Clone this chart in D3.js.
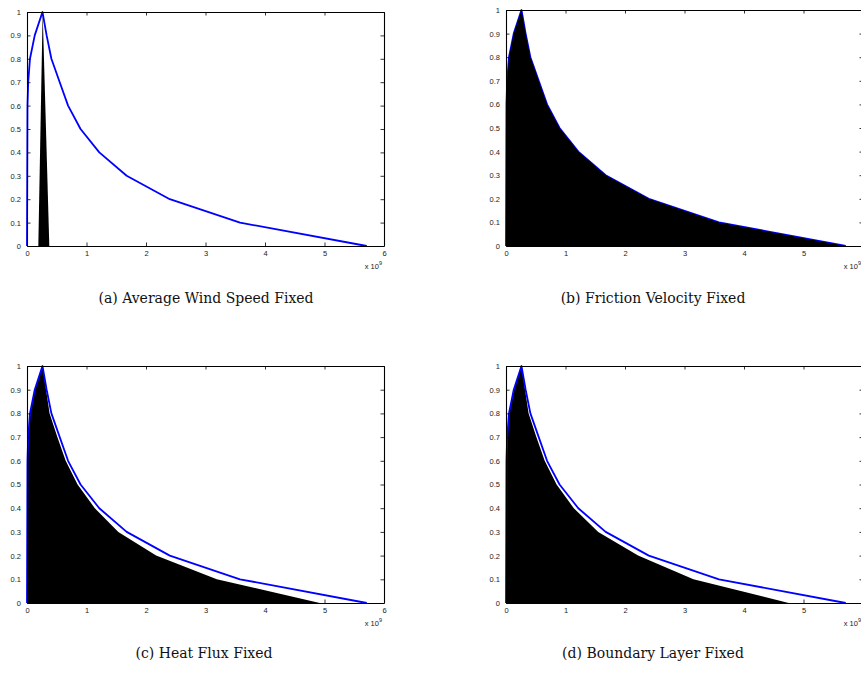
<!DOCTYPE html>
<html><head><meta charset="utf-8">
<script src="https://cdn.jsdelivr.net/npm/d3@7/dist/d3.min.js"></script>
<style>
html,body{margin:0;padding:0;background:#fff;overflow:hidden}
svg{display:block}
</style></head><body>
<svg id="chart" width="861" height="674"></svg>
<script>
// ---- data (x in units of 1e9) ----
const blueX = [0, 0.008, 0.02, 0.05, 0.13, 0.26, 0.33, 0.41, 0.55, 0.69, 0.9, 1.215, 1.675, 2.40, 3.58, 5.71];
const blueY = [0, 0.6, 0.7, 0.8, 0.9, 1, 0.9, 0.8, 0.7, 0.6, 0.5, 0.4, 0.3, 0.2, 0.1, 0];

const fillAX = [0.19, 0.263, 0.375];
const fillAY = [0, 1, 0];

const fillBX = blueX;
const fillBY = blueY;

const fillCX = [0, 0.01, 0.025, 0.055, 0.135, 0.26, 0.32, 0.38, 0.51, 0.65, 0.85, 1.14, 1.535, 2.17, 3.19, 4.92];
const fillCY = [0, 0.6, 0.7, 0.8, 0.9, 1, 0.9, 0.8, 0.7, 0.6, 0.5, 0.4, 0.3, 0.2, 0.1, 0];

const fillDX = [0, 0.01, 0.025, 0.055, 0.135, 0.26, 0.32, 0.38, 0.51, 0.65, 0.85, 1.14, 1.55, 2.22, 3.15, 4.75];
const fillDY = [0, 0.6, 0.7, 0.8, 0.9, 1, 0.9, 0.8, 0.7, 0.6, 0.5, 0.4, 0.3, 0.2, 0.1, 0];

const xTicks = [0, 1, 2, 3, 4, 5, 6];
const yTicks = [0, 0.1, 0.2, 0.3, 0.4, 0.5, 0.6, 0.7, 0.8, 0.9, 1];
const yTickLabels = ["0","0.1","0.2","0.3","0.4","0.5","0.6","0.7","0.8","0.9","1"];
const xExponent = "9";

const captions = ["(a) Average Wind Speed Fixed", "(b) Friction Velocity Fixed", "(c) Heat Flux Fixed", "(d) Boundary Layer Fixed"];

const panels = [
  {box:[27, 12, 384, 246], fx: fillAX, fy: fillAY, fillOnTop:false, cap:[206, 303]},
  {box:[506, 10, 863, 246], fx: fillBX, fy: fillBY, fillOnTop:true, cap:[653, 303]},
  {box:[27, 366, 384, 603], fx: fillCX, fy: fillCY, fillOnTop:false, cap:[204, 658]},
  {box:[506, 366, 863, 603], fx: fillDX, fy: fillDY, fillOnTop:false, cap:[653, 658]}
];

const svg = d3.select("#chart");

panels.forEach((p, i) => {
  const [l, t, r, b] = p.box;
  const x = d3.scaleLinear().domain([0, 6]).range([l, r]);
  const y = d3.scaleLinear().domain([0, 1]).range([b, t]);
  const g = svg.append("g");

  const blue = blueX.map((v, k) => [v, blueY[k]]);
  const fill = p.fx.map((v, k) => [v, p.fy[k]]);

  const area = d3.area().x(d => x(d[0])).y0(y(0)).y1(d => y(d[1]));
  const line = d3.line().x(d => x(d[0])).y(d => y(d[1]));

  const drawFill = () => g.append("path").attr("d", area(fill)).attr("fill", "#000");
  const drawLine = () => g.append("path").attr("d", line(blue)).attr("fill", "none")
      .attr("stroke", "#0000ff").attr("stroke-width", 1.8).attr("stroke-linejoin", "round");

  if (p.fillOnTop) { drawLine(); drawFill(); } else { drawFill(); drawLine(); }

  // axes (MATLAB style, ticks inward on all sides)
  const axB = d3.axisBottom(x).tickValues(xTicks).tickSizeInner(-3.5).tickSizeOuter(0).tickPadding(5).tickFormat(d3.format("d"));
  const axT = d3.axisTop(x).tickValues(xTicks).tickSizeInner(-3.5).tickSizeOuter(0).tickFormat("");
  const axL = d3.axisLeft(y).tickValues(yTicks).tickSizeInner(-3.5).tickSizeOuter(0).tickPadding(6).tickFormat((d, k) => yTickLabels[k]);
  const axR = d3.axisRight(y).tickValues(yTicks).tickSizeInner(-3.5).tickSizeOuter(0).tickFormat("");

  const ga = [
    g.append("g").attr("transform", `translate(0,${b})`).call(axB),
    g.append("g").attr("transform", `translate(0,${t})`).call(axT),
    g.append("g").attr("transform", `translate(${l},0)`).call(axL),
    g.append("g").attr("transform", `translate(${r},0)`).call(axR)
  ];
  ga.forEach(a => {
    a.select(".domain").attr("stroke", "#000").attr("stroke-width", 1.1);
    a.selectAll(".tick line").attr("stroke", "#000").attr("stroke-width", 0.8);
    a.selectAll("text").attr("font-family", "Liberation Sans, Arial, sans-serif").attr("font-size", 7.5).attr("fill", "#222");
  });
  const ex = g.append("text").attr("x", r - 2).attr("y", b + 23).attr("text-anchor", "end")
    .attr("font-family", "Liberation Sans, Arial, sans-serif").attr("font-size", 7.5).attr("fill", "#222");
  ex.append("tspan").text("x 10");
  ex.append("tspan").attr("dy", -4).attr("font-size", 5.5).text(xExponent);

  svg.append("text").attr("x", p.cap[0]).attr("y", p.cap[1]).attr("text-anchor", "middle")
    .attr("font-family", "DejaVu Serif, serif").attr("font-size", 14).attr("fill", "#111")
    .text(captions[i]);
});
</script>
</body></html>
